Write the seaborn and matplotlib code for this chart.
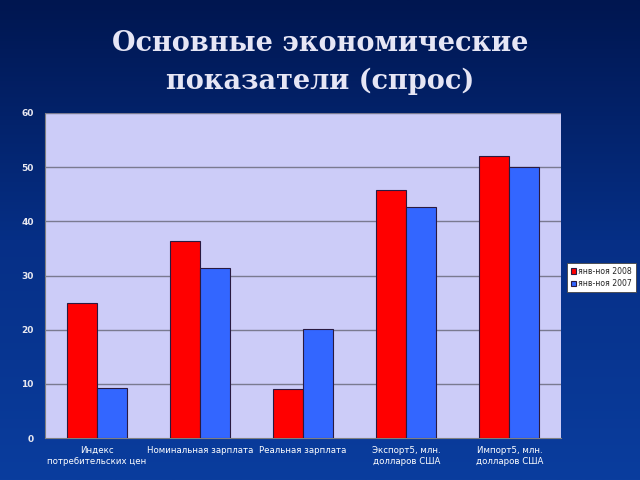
import numpy as np
import pandas as pd
import matplotlib
matplotlib.use("Agg")
import matplotlib.pyplot as plt
import seaborn as sns
from matplotlib.colors import LinearSegmentedColormap

categories = ["Индекс\nпотребительских цен", "Номинальная зарплата", "Реальная зарплата",
              "Экспорт5, млн.\nдолларов США", "Импорт5, млн.\nдолларов США"]
series_names = ["янв-ноя 2008", "янв-ноя 2007"]
values_2008 = [25.0, 36.3, 9.0, 45.7, 52.0]
values_2007 = [9.3, 31.4, 20.2, 42.6, 50.0]
yticks = [0, 10, 20, 30, 40, 50, 60]

df = pd.DataFrame({
    "cat": categories * 2,
    "series": [series_names[0]] * 5 + [series_names[1]] * 5,
    "val": values_2008 + values_2007,
})

sns.set_style("white")
fig = plt.figure(figsize=(6.4, 4.8), dpi=100)

# background gradient
bg = fig.add_axes([0, 0, 1, 1], zorder=-10)
grad = np.linspace(0, 1, 256).reshape(-1, 1)
cmap = LinearSegmentedColormap.from_list("bg", ["#001650", "#062f86", "#0a3d9e"])
bg.imshow(grad, aspect="auto", cmap=cmap, extent=[0, 1, 0, 1], origin="upper")
bg.set_axis_off()

ax = fig.add_axes([45/640, 1 - 438/480, 516/640, 325/480])
ax.set_facecolor("#ccccf8")
sns.barplot(data=df, x="cat", y="val", hue="series", ax=ax,
            palette=["#ff0000", "#3366ff"], width=0.58, saturation=1,
            edgecolor="#2a1a40", linewidth=0.8, zorder=3)
ax.set_ylim(0, 60)
ax.set_xlim(-0.5, 4.5)
ax.set_yticks(yticks)
ax.set_yticklabels([str(t) for t in yticks], color="#e8e8f0", fontsize=6.5, fontweight="bold")
ax.tick_params(axis="y", length=3, color="#808080", pad=5)
ax.tick_params(axis="x", length=0, pad=6)
for lab in ax.get_xticklabels():
    lab.set_color("white")
    lab.set_fontsize(6.2)
ax.set_xlabel("")
ax.set_ylabel("")
for y in yticks[1:]:
    ax.axhline(y, color="#7a7a90", linewidth=1.0, zorder=1)
for s in ["top", "right"]:
    ax.spines[s].set_visible(False)
ax.spines["left"].set_color("#808080")
ax.spines["bottom"].set_color("#808080")

leg = ax.legend(loc="upper left", bbox_to_anchor=(567/640, 1 - 263/480),
                bbox_transform=fig.transFigure, fontsize=5.6, framealpha=1,
                frameon=True, fancybox=False, handlelength=0.7, handleheight=0.7,
                handletextpad=0.3, borderpad=0.45, labelspacing=0.45, borderaxespad=0)
leg.get_frame().set_facecolor("white")
leg.get_frame().set_edgecolor("#444444")
leg.get_frame().set_linewidth(0.6)

fig.text(0.5, 0.87, "Основные экономические\nпоказатели (спрос)", ha="center", va="center",
         fontsize=19.5, fontweight="bold", family="DejaVu Serif", color="#e6e6f5",
         linespacing=1.5)

fig.savefig("out.png", dpi=100)
